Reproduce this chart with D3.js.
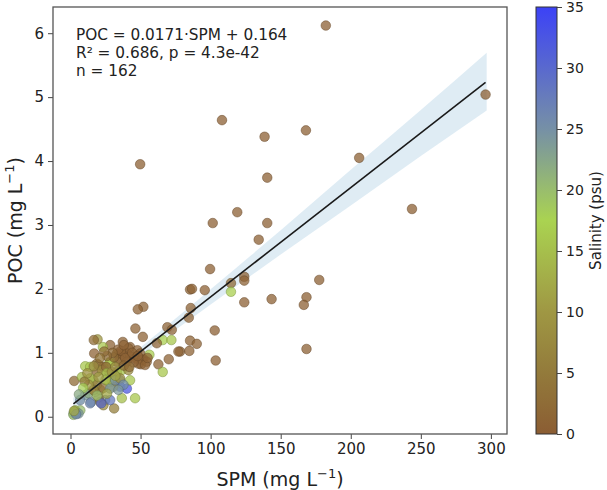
<!DOCTYPE html>
<html>
<head>
<meta charset="utf-8">
<script src="https://cdn.jsdelivr.net/npm/d3@7"></script>
<style>
  body { margin: 0; background: #fff; }
  svg { font-family: "DejaVu Sans", sans-serif; }
</style>
</head>
<body>
<svg id="chart" width="607" height="490"></svg>
<script>
// SPM (mg/L), POC (mg/L), salinity (psu) per sample
var spm = [182.2, 296.2, 108.1, 138.5, 168.0, 206.0, 140.4, 243.7, 119.0, 101.5,
  140.4, 134.3, 99.6, 124.0, 124.0, 177.5, 85.3, 86.7, 95.8, 114.5,
  114.5, 124.0, 143.5, 168.4, 166.5, 85.8, 84.4, 102.9, 85.3, 90.1,
  78.2, 84.8, 168.4, 103.6, 49.7, 52.0, 48.0, 46.3, 51.6, 69.1,
  72.3, 65.8, 72.0, 61.6, 77.0, 70.1, 56.3, 62.7, 65.8, 50.3,
  37.3, 28.3, 23.1, 19.3, 16.6, 16.9, 42.5, 47.7, 41.3, 35.4,
  33.1, 40.2, 37.8, 44.9, 42.5, 52.0, 49.7, 35.4, 40.2, 46.1,
  50.9, 48.5, 54.4, 53.2, 33.1, 28.3, 10.5, 2.6, 8.1, 18.8,
  23.5, 18.8, 16.4, 27.8, 27.8, 33.1, 29.7, 35.4, 35.4, 40.2,
  42.5, 30.6, 46.1, 36.6, 31.1, 24.7, 14.7, 20.0, 10.5, 12.8,
  17.6, 21.2, 14.0, 2.1, 4.6, 7.0, 20.0, 22.4, 25.4, 25.9,
  29.5, 16.6, 31.9, 36.6, 41.3, 18.8, 16.4, 23.5, 27.1, 6.9,
  14.0, 21.2, 23.5, 28.3, 3.3, 2.1, 5.7, 21.9, 31.9, 35.4,
  37.8, 28.3, 34.2, 14.0, 13.0, 10.0, 3.0, 4.0, 2.5, 36.0,
  39.0, 44.0, 31.0, 34.0, 45.0, 38.0, 42.0, 30.0, 26.0, 24.0,
  21.0, 48.0, 55.0, 32.0, 25.0, 20.0, 12.0, 9.0, 6.0, 19.0,
  26.0, 38.0];
var poc = [6.12, 5.04, 4.64, 4.38, 4.48, 4.05, 3.74, 3.25, 3.20, 3.03,
  3.03, 2.77, 2.31, 2.19, 2.13, 2.14, 1.99, 2.00, 1.98, 2.09,
  1.955, 1.79, 1.84, 1.87, 1.75, 1.70, 1.55, 1.35, 1.19, 1.14,
  1.02, 1.03, 1.06, 0.88, 3.95, 1.72, 1.68, 1.38, 1.25, 1.40,
  1.36, 1.20, 1.20, 1.15, 1.02, 0.90, 0.97, 0.82, 0.70, 0.82,
  1.17, 1.12, 1.09, 1.21, 1.20, 0.99, 1.09, 1.04, 1.07, 0.99,
  0.99, 0.99, 0.96, 0.94, 0.94, 0.90, 0.99, 0.89, 0.86, 0.91,
  0.89, 0.83, 0.86, 0.81, 0.86, 0.86, 0.79, 0.56, 0.62, 0.83,
  0.78, 0.70, 0.57, 0.84, 0.68, 0.70, 0.55, 0.57, 0.47, 0.44,
  0.57, 0.47, 0.29, 0.29, 0.13, 0.26, 0.23, 0.30, 0.34, 0.37,
  0.39, 0.42, 0.78, 0.05, 0.06, 0.10, 0.81, 0.73, 0.78, 0.68,
  0.70, 0.79, 0.78, 0.73, 0.73, 0.50, 0.42, 0.45, 0.55, 0.26,
  0.21, 0.23, 0.18, 0.26, 0.10, 0.03, 0.05, 0.21, 0.57, 0.60,
  0.50, 0.44, 0.42, 0.60, 0.50, 0.55, 0.07, 0.04, 0.09, 1.03,
  0.92, 1.00, 0.93, 1.05, 0.85, 0.80, 0.78, 1.00, 0.95, 1.02,
  0.92, 0.95, 0.92, 0.64, 0.58, 0.62, 0.68, 0.45, 0.35, 0.33,
  0.36, 1.12];
var salinity = [0.5, 0.3, 0.5, 0.5, 0.5, 0.5, 0.5, 0.5, 0.5, 0.5,
  0.5, 0.5, 0.5, 1, 1, 0.5, 1, 1, 0.5, 2,
  17, 0.5, 0.5, 0.5, 0.5, 1, 1, 0.5, 1, 1,
  1, 1, 0.5, 0.5, 0.5, 1, 1, 1, 1, 1,
  1, 17, 16, 1, 1, 1, 17, 1, 16, 1,
  1, 1, 16, 10, 3, 1, 1, 1, 1, 1,
  1, 1, 1, 1, 1, 1, 1, 1, 1, 1,
  1, 1, 1, 1, 2, 16, 16, 2, 15, 2,
  2, 2, 3, 16, 10, 8, 10, 25, 31, 32,
  16, 8, 16, 15, 6, 25, 26, 5, 24, 22,
  10, 8, 16, 22, 24, 20, 3, 9, 2, 15,
  9, 8, 8, 16, 8, 8, 6, 3, 16, 25,
  26, 6, 8, 28, 15, 20, 24, 30, 25, 9,
  25, 24, 24, 16, 10, 5, 20, 26, 12, 1,
  1, 1, 2, 1, 1, 2, 3, 2, 2, 3,
  4, 1, 1, 12, 14, 11, 9, 18, 22, 20,
  12, 1];

var xTicks = [0, 50, 100, 150, 200, 250, 300];
var yTicks = [0, 1, 2, 3, 4, 5, 6];
var salTicks = [0, 5, 10, 15, 20, 25, 30, 35];

// fit from the annotation, and the confidence band half-width
var slope = 0.0171, intercept = 0.164;
var bandSpm = [2, 50, 100, 150, 200, 250, 297];
var bandHalf = [0.10, 0.07, 0.12, 0.19, 0.28, 0.36, 0.45];

var svg = d3.select("#chart");
var plotL = 53, plotR = 507, plotT = 7, plotB = 434;

var x = d3.scaleLinear().domain([-12.5, 311.5]).range([plotL, plotR]);
var y = d3.scaleLinear().domain([-0.27, 6.41]).range([plotB, plotT]);

var color = d3.scaleLinear()
  .domain([0, 5, 10, 17.5, 25, 35])
  .range(["#8b5d33", "#937a3b", "#9f9743", "#aad351", "#7690a6", "#3c42f6"])
  .clamp(true);

// confidence band
var bandData = bandSpm.map(function(s, i) {
  var m = slope * s + intercept;
  return { s: s, lo: m - bandHalf[i], hi: m + bandHalf[i] };
});
svg.append("path")
  .datum(bandData)
  .attr("fill", "#1f77b4")
  .attr("fill-opacity", 0.14)
  .attr("d", d3.area().curve(d3.curveMonotoneX)
    .x(function(d) { return x(d.s); })
    .y0(function(d) { return y(d.lo); })
    .y1(function(d) { return y(d.hi); }));

// points
var pts = spm.map(function(s, i) { return { s: s, p: poc[i], sal: salinity[i] }; });
svg.append("g").selectAll("circle")
  .data(pts)
  .enter().append("circle")
  .attr("cx", function(d) { return x(d.s); })
  .attr("cy", function(d) { return y(d.p); })
  .attr("r", 4.8)
  .attr("fill", function(d) { return color(d.sal); })
  .attr("fill-opacity", 0.75)
  .attr("stroke", function(d) { return d3.color(color(d.sal)).darker(1); })
  .attr("stroke-opacity", 0.6)
  .attr("stroke-width", 0.8);

// regression line
var xMin = d3.min(spm), xMax = d3.max(spm);
svg.append("line")
  .attr("x1", x(xMin)).attr("y1", y(slope * xMin + intercept))
  .attr("x2", x(xMax)).attr("y2", y(slope * xMax + intercept))
  .attr("stroke", "#1a1a1a")
  .attr("stroke-width", 1.6);

// axes
var xAxis = svg.append("g")
  .attr("transform", "translate(0," + plotB + ")")
  .call(d3.axisBottom(x).tickValues(xTicks).tickFormat(d3.format("d"))
    .tickSize(5).tickPadding(4));
var yAxis = svg.append("g")
  .attr("transform", "translate(" + plotL + ",0)")
  .call(d3.axisLeft(y).tickValues(yTicks).tickFormat(d3.format("d"))
    .tickSize(5).tickPadding(4));
[xAxis, yAxis].forEach(function(a) {
  a.select(".domain").remove();
  a.selectAll("line").attr("stroke", "#444");
  a.selectAll("text").attr("font-size", 15).attr("fill", "#222")
    .attr("font-family", "DejaVu Sans");
});

svg.append("rect")
  .attr("x", plotL).attr("y", plotT)
  .attr("width", plotR - plotL).attr("height", plotB - plotT)
  .attr("fill", "none").attr("stroke", "#555").attr("stroke-width", 1.3);

// axis labels
var xl = svg.append("text")
  .attr("x", (plotL + plotR) / 2).attr("y", 486)
  .attr("text-anchor", "middle").attr("font-size", 19).attr("fill", "#222");
xl.append("tspan").text("SPM (mg L");
xl.append("tspan").attr("dy", -8).attr("font-size", 13).text("−1");
xl.append("tspan").attr("dy", 8).text(")");

var yl = svg.append("text")
  .attr("transform", "translate(22," + ((plotT + plotB) / 2) + ") rotate(-90)")
  .attr("text-anchor", "middle").attr("font-size", 19).attr("fill", "#222");
yl.append("tspan").text("POC (mg L");
yl.append("tspan").attr("dy", -8).attr("font-size", 13).text("−1");
yl.append("tspan").attr("dy", 8).text(")");

// annotation
var notes = ["POC = 0.0171·SPM + 0.164", "R² = 0.686, p = 4.3e-42", "n = 162"];
svg.append("g").selectAll("text")
  .data(notes)
  .enter().append("text")
  .attr("x", 76)
  .attr("y", function(d, i) { return 40 + i * 18; })
  .attr("font-size", 15.3)
  .attr("fill", "#222")
  .text(function(d) { return d; });

// colorbar
var cbLeft = 536, cbWidth = 21;
var grad = svg.append("defs").append("linearGradient")
  .attr("id", "salGrad")
  .attr("x1", 0).attr("y1", 1).attr("x2", 0).attr("y2", 0);
d3.range(0, 35.01, 2.5).forEach(function(v) {
  grad.append("stop").attr("offset", v / 35).attr("stop-color", color(v));
});
svg.append("rect")
  .attr("x", cbLeft).attr("y", plotT)
  .attr("width", cbWidth).attr("height", plotB - plotT)
  .attr("fill", "url(#salGrad)")
  .attr("stroke", "#333").attr("stroke-width", 1);

var cbScale = d3.scaleLinear().domain([0, 35]).range([plotB, plotT]);
var cbAxis = svg.append("g")
  .attr("transform", "translate(" + (cbLeft + cbWidth) + ",0)")
  .call(d3.axisRight(cbScale).tickValues(salTicks).tickSize(5).tickPadding(4));
cbAxis.select(".domain").remove();
cbAxis.selectAll("line").attr("stroke", "#444");
cbAxis.selectAll("text").attr("font-size", 14).attr("fill", "#222")
  .attr("font-family", "DejaVu Sans");

svg.append("text")
  .attr("transform", "translate(601," + ((plotT + plotB) / 2) + ") rotate(-90)")
  .attr("text-anchor", "middle").attr("font-size", 15).attr("fill", "#222")
  .text("Salinity (psu)");
</script>
</body>
</html>
